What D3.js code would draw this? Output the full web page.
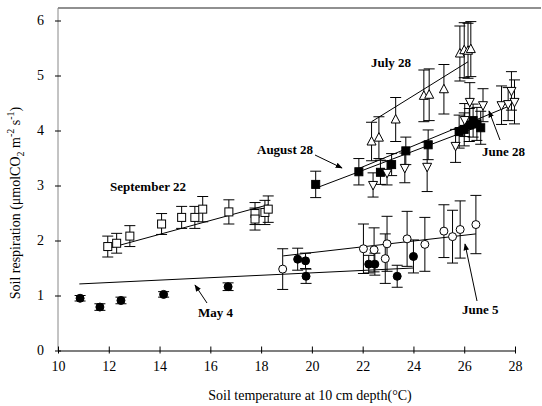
<!DOCTYPE html>
<html>
<head>
<meta charset="utf-8">
<script src="https://cdn.jsdelivr.net/npm/d3@7"></script>
<style>
  body { margin: 0; background: #fff; }
  svg { display: block; }
  .tick text { font-family: "Liberation Serif", serif; font-size: 14px; fill: #000; }
  .lab { font-family: "Liberation Serif", serif; font-weight: bold; font-size: 13px; }
</style>
</head>
<body>
<div id="chart"></div>
<script>
// May 4 (filled circles)
const may4T   = [10.87, 11.65, 12.48, 14.16, 16.7, 19.44, 19.75, 19.77, 22.24, 22.48, 23.36, 24.0];
const may4R   = [0.95, 0.79, 0.91, 1.02, 1.16, 1.66, 1.63, 1.35, 1.57, 1.57, 1.35, 1.71];
const may4E   = [0.05, 0.06, 0.06, 0.05, 0.07, 0.2, 0.14, 0.13, 0.16, 0.2, 0.2, 0.3];
// June 5 (open circles)
const jun5T   = [18.85, 22.03, 22.45, 22.89, 22.96, 23.75, 24.45, 25.2, 25.54, 25.84, 26.46];
const jun5R   = [1.48, 1.85, 1.83, 1.67, 1.94, 2.03, 1.93, 2.17, 2.07, 2.2, 2.29];
const jun5E   = [0.37, 0.45, 0.4, 0.45, 0.5, 0.5, 0.49, 0.48, 0.48, 0.52, 0.53];
// September 22 (open squares)
const sep22T  = [11.96, 12.31, 12.83, 14.08, 14.87, 15.39, 15.7, 16.73, 17.76, 17.76, 18.15, 18.28];
const sep22R  = [1.89, 1.95, 2.08, 2.30, 2.42, 2.42, 2.57, 2.52, 2.49, 2.39, 2.51, 2.57];
const sep22E  = [0.19, 0.18, 0.19, 0.19, 0.2, 0.2, 0.23, 0.22, 0.2, 0.2, 0.22, 0.24];
// August 28 (filled squares)
const aug28T  = [20.15, 21.85, 22.7, 23.14, 23.7, 24.58, 25.8, 26.0, 26.2, 26.35, 26.5, 26.65];
const aug28R  = [3.02, 3.25, 3.24, 3.38, 3.63, 3.74, 3.98, 4.02, 4.1, 4.18, 4.12, 4.05];
const aug28E  = [0.24, 0.24, 0.22, 0.2, 0.25, 0.27, 0.3, 0.3, 0.3, 0.3, 0.3, 0.3];
// June 28 (open down triangles)
const jun28T  = [22.41, 22.96, 23.66, 24.54, 25.66, 26.02, 26.22, 26.74, 27.47, 27.73, 27.86, 27.98];
const jun28R  = [3.01, 3.23, 3.32, 3.34, 3.72, 4.19, 4.52, 4.46, 4.46, 4.48, 4.72, 4.52];
const jun28E  = [0.22, 0.22, 0.27, 0.45, 0.3, 0.3, 0.35, 0.3, 0.35, 0.3, 0.35, 0.4];
// July 28 (open up triangles)
const jul28T  = [22.35, 22.64, 23.3, 24.41, 24.62, 25.2, 25.83, 26.0, 26.15, 26.26];
const jul28R  = [3.8, 3.87, 4.2, 4.63, 4.65, 4.75, 5.4, 5.46, 5.45, 5.48];
const jul28E  = [0.35, 0.38, 0.4, 0.47, 0.47, 0.45, 0.5, 0.5, 0.5, 0.5];

// regression lines: [T0, R0, T1, R1]
const may4Fit  = [10.84, 1.21, 24.0, 1.50];
const jun5Fit  = [18.87, 1.72, 26.46, 2.12];
const sep22Fit = [11.92, 1.85, 18.28, 2.65];
const aug28Fit = [20.2, 2.96, 26.6, 4.08];
const jun28Fit = [21.8, 3.30, 27.8, 4.45];
const jul28Fit = [22.35, 4.16, 26.15, 5.25];

const xTicks = [10, 12, 14, 16, 18, 20, 22, 24, 26, 28];
const yTicks = [0, 1, 2, 3, 4, 5, 6];

const W = 542, H = 406;
const padL = 58, padR = 515, padT = 8, padB = 350.5;

const svg = d3.select('#chart').append('svg').attr('width', W).attr('height', H);

const x = d3.scaleLinear().domain([10, 28]).range([padL, padR]);
const y = d3.scaleLinear().domain([0, (padB - padT) / 55]).range([padB, padT]);

//frame
svg.append('line').attr('x1', padL).attr('x2', 541).attr('y1', padT).attr('y2', padT)
  .attr('stroke', '#222').attr('stroke-width', 1.2);
svg.append('line').attr('x1', padL).attr('x2', padL).attr('y1', padT).attr('y2', padB)
  .attr('stroke', '#888').attr('stroke-width', 1);

//axes
const xAxis = svg.append('g').attr('transform', 'translate(0,' + padB + ')')
  .call(d3.axisBottom(x).tickValues(xTicks).tickFormat(d3.format('d')).tickSize(0).tickPadding(11));
xAxis.select('.domain').attr('stroke', '#000').attr('stroke-width', 1.2);
xAxis.selectAll('.tick').append('line').attr('y1', -4).attr('y2', 3).attr('stroke', '#000');

const yAxis = svg.append('g').attr('transform', 'translate(' + padL + ',0)')
  .call(d3.axisLeft(y).tickValues(yTicks).tickFormat(d3.format('d')).tickSize(0).tickPadding(14));
yAxis.select('.domain').remove();
yAxis.selectAll('.tick').append('line').attr('x1', -3).attr('x2', 3).attr('stroke', '#000');

//axis titles
svg.append('text').attr('x', 310).attr('y', 400).attr('text-anchor', 'middle')
  .style('font-family', '"Liberation Serif", serif').style('font-size', '14px')
  .text('Soil temperature at 10 cm depth(°C)');

const yt = svg.append('text').attr('transform', 'translate(20,203) rotate(-90)')
  .attr('text-anchor', 'middle')
  .style('font-family', '"Liberation Serif", serif').style('font-size', '14px');
yt.append('tspan').text('Soil respiration (μmolCO');
yt.append('tspan').attr('dy', 4).style('font-size', '10px').text('2');
yt.append('tspan').attr('dy', -4).text(' m');
yt.append('tspan').attr('dy', -6).style('font-size', '10px').text('-2');
yt.append('tspan').attr('dy', 6).text(' s');
yt.append('tspan').attr('dy', -6).style('font-size', '10px').text('-1');
yt.append('tspan').attr('dy', 6).text(')');

//fit lines
[may4Fit, jun5Fit, sep22Fit, aug28Fit, jun28Fit, jul28Fit].forEach(function (f) {
  svg.append('line')
    .attr('x1', x(f[0])).attr('y1', y(f[1]))
    .attr('x2', x(f[2])).attr('y2', y(f[3]))
    .attr('stroke', '#000').attr('stroke-width', 1);
});

var zip = function (T, R, E) {
  return T.map(function (t, i) { return { t: t, r: R[i], e: E[i] }; });
};

var series = [
  { pts: zip(sep22T, sep22R, sep22E), shape: 'square', fill: '#fff' },
  { pts: zip(aug28T, aug28R, aug28E), shape: 'square', fill: '#000' },
  { pts: zip(jul28T, jul28R, jul28E), shape: 'up', fill: '#fff' },
  { pts: zip(jun28T, jun28R, jun28E), shape: 'down', fill: '#fff' },
  { pts: zip(jun5T, jun5R, jun5E), shape: 'circle', fill: '#fff' },
  { pts: zip(may4T, may4R, may4E), shape: 'circle', fill: '#000' }
];

var cap = 5.5;
//error bars first
series.forEach(function (s) {
  var g = svg.append('g').attr('stroke', '#000').attr('stroke-width', 1);
  s.pts.forEach(function (d) {
    var cx = x(d.t), y0 = y(d.r - d.e), y1 = y(d.r + d.e);
    g.append('line').attr('x1', cx).attr('x2', cx).attr('y1', y0).attr('y2', y1);
    g.append('line').attr('x1', cx - cap).attr('x2', cx + cap).attr('y1', y0).attr('y2', y0);
    g.append('line').attr('x1', cx - cap).attr('x2', cx + cap).attr('y1', y1).attr('y2', y1);
  });
});

//markers
series.forEach(function (s) {
  var g = svg.append('g');
  s.pts.forEach(function (d) {
    var cx = x(d.t), cy = y(d.r), m;
    if (s.shape === 'circle') {
      m = g.append('circle').attr('cx', cx).attr('cy', cy).attr('r', 4);
    } else if (s.shape === 'square') {
      m = g.append('rect').attr('x', cx - 4).attr('y', cy - 4).attr('width', 8).attr('height', 8);
    } else if (s.shape === 'up') {
      m = g.append('path').attr('d', 'M' + cx + ',' + (cy - 5) + 'L' + (cx + 4.5) + ',' + (cy + 3.5) + 'L' + (cx - 4.5) + ',' + (cy + 3.5) + 'Z');
    } else {
      m = g.append('path').attr('d', 'M' + cx + ',' + (cy + 5) + 'L' + (cx + 4.5) + ',' + (cy - 3.5) + 'L' + (cx - 4.5) + ',' + (cy - 3.5) + 'Z');
    }
    m.attr('fill', s.fill).attr('stroke', '#000').attr('stroke-width', 1);
  });
});

//labels and arrows
svg.append('defs').append('marker').attr('id', 'ah')
  .attr('viewBox', '0 0 10 10').attr('refX', 9).attr('refY', 5)
  .attr('markerWidth', 7).attr('markerHeight', 7).attr('orient', 'auto')
  .append('path').attr('d', 'M0,1L10,5L0,9Z').attr('fill', '#000');

var label = function (txt, tx, ty, anchor) {
  svg.append('text').attr('class', 'lab').attr('x', tx).attr('y', ty)
    .attr('text-anchor', anchor).text(txt);
};
var arrow = function (x1, y1, x2, y2) {
  svg.append('line').attr('x1', x1).attr('y1', y1).attr('x2', x2).attr('y2', y2)
    .attr('stroke', '#000').attr('stroke-width', 1).attr('marker-end', 'url(#ah)');
};

label('July 28', 411, 67, 'end');
label('August 28', 313, 154, 'end');
arrow(315, 155, 342, 168);
label('September 22', 110, 191, 'start');
label('June 28', 482, 156, 'start');
arrow(500, 140, 489, 111);
label('June 5', 462, 314, 'start');
arrow(477, 301, 465, 244);
label('May 4', 198, 317, 'start');
arrow(207, 303, 195, 285);
</script>
</body>
</html>
